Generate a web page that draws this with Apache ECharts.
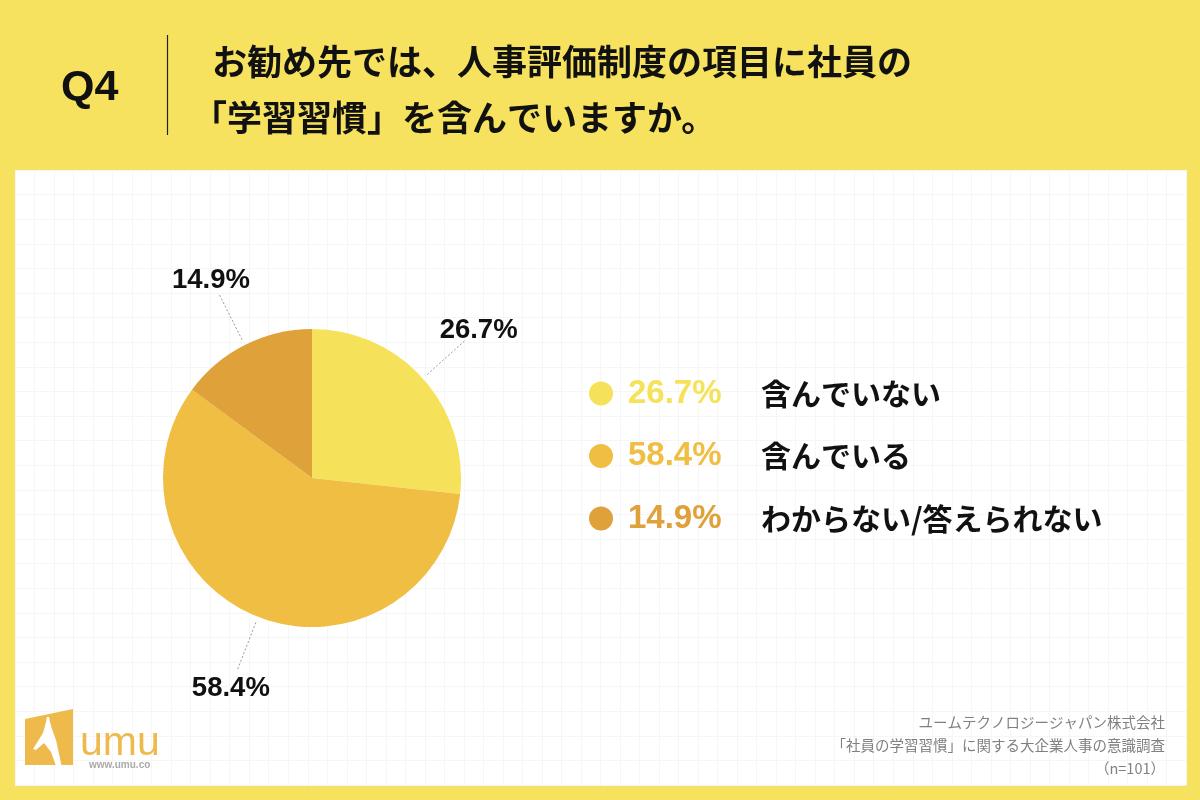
<!DOCTYPE html>
<html><head><meta charset="utf-8">
<script src="https://cdn.jsdelivr.net/npm/echarts@6/dist/echarts.min.js"></script>
<style>html,body{margin:0;padding:0;background:#F6E25E}#c{width:1200px;height:800px}</style>
</head><body><div id="c"></div>
<script>
const categories = ['含んでいない', '含んでいる', 'わからない/答えられない'];
const values = [26.7, 58.4, 14.9];
const sliceColors = ['#F6E25A', '#EFBE42', '#DFA13A'];
const titleLines = ['お勧め先では、人事評価制度の項目に社員の', '「学習習慣」を含んでいますか。'];
const questionNo = 'Q4';
const footLines = ['ユームテクノロジージャパン株式会社', '「社員の学習習慣」に関する大企業人事の意識調査', '（n=101）'];

const LAT = '"Liberation Sans", Arial, sans-serif';
const JP = '"Noto Sans CJK JP", sans-serif';

const rich = { n: { fontFamily: JP, fontWeight: 'bold', fontSize: 30, color: '#111', lineHeight: 36 } };
sliceColors.forEach((c, i) => {
  rich['p' + i] = { fontFamily: LAT, fontWeight: 'bold', fontSize: 33, color: c, width: 133, padding: [0, 0, 0, 10], lineHeight: 36 };
});

const chart = echarts.init(document.getElementById('c'), null, { renderer: 'canvas' });
chart.setOption({
  backgroundColor: '#F6E25E',
  animation: false,
  grid: { left: 15, top: 170, width: 1171, height: 615, show: true, backgroundColor: '#ffffff', borderWidth: 0 },
  xAxis: { type: 'value', min: 0, max: 60, interval: 1, axisLine: { show: false }, axisTick: { show: false }, axisLabel: { show: false },
    splitLine: { show: true, lineStyle: { color: '#f6f6f6', width: 1 } } },
  yAxis: { type: 'value', min: 0, max: 25, interval: 1, axisLine: { show: false }, axisTick: { show: false }, axisLabel: { show: false },
    splitLine: { show: true, lineStyle: { color: '#f6f6f6', width: 1 } } },
  legend: {
    orient: 'vertical', left: 584, top: 372, itemWidth: 24, itemHeight: 24, itemGap: 29.5, icon: 'circle',
    selectedMode: false,
    data: categories,
    formatter: function (name) {
      const i = categories.indexOf(name);
      return '{p' + i + '|' + values[i].toFixed(1) + '%}{n|' + name + '}';
    },
    textStyle: { rich: rich }
  },
  series: [{
    type: 'pie',
    center: [312, 478],
    radius: 149,
    startAngle: 90,
    clockwise: true,
    avoidLabelOverlap: false,
    silent: true,
    color: sliceColors,
    data: categories.map((c, i) => ({ name: c, value: values[i] })),
    label: {
      show: true, position: 'outside',
      formatter: p => p.value.toFixed(1) + '%',
      fontFamily: LAT, fontWeight: 'bold', fontSize: 27.5, color: '#111'
    },
    labelLine: { show: true, length: 56, length2: 0, smooth: false, lineStyle: { color: '#9a9a9a', width: 1, type: [2, 2] } },
    labelLayout: function (p) {
      const pts = p.labelLinePoints;
      if (!pts || pts.length < 2) return {};
      const a = pts[0], b = pts[1];
      const dx = b[0] - a[0], dy = b[1] - a[1];
      const len = Math.hypot(dx, dy) || 1;
      const ux = dx / len, uy = dy / len;
      const gap = 6, off = 19;
      return {
        x: b[0] + ux * off, y: b[1] + uy * off + 2, align: 'center', verticalAlign: 'middle',
        labelLinePoints: [[a[0] + ux * gap, a[1] + uy * gap], [b[0], b[1]]]
      };
    },
    emphasis: { disabled: true }
  }],
  graphic: [
    { type: 'text', z: 100, left: 61, top: 67, style: { text: questionNo, font: 'bold 43px ' + LAT, fill: '#111' } },
    { type: 'line', z: 100, shape: { x1: 167.5, y1: 35, x2: 167.5, y2: 135 }, style: { stroke: '#222', lineWidth: 1.2 } },
    { type: 'text', z: 100, x: 212, y: 62, style: { text: titleLines[0], font: 'bold 35px ' + JP, fill: '#111', textVerticalAlign: 'middle' } },
    { type: 'text', z: 100, x: 192, y: 118, style: { text: titleLines[1], font: 'bold 35px ' + JP, fill: '#111', textVerticalAlign: 'middle' } },
    { type: 'text', z: 100, x: 1165, y: 722, style: { text: footLines[0], font: '14.5px ' + JP, fill: '#808080', textAlign: 'right', textVerticalAlign: 'middle' } },
    { type: 'text', z: 100, x: 1165, y: 745, style: { text: footLines[1], font: '14.5px ' + JP, fill: '#808080', textAlign: 'right', textVerticalAlign: 'middle' } },
    { type: 'text', z: 100, x: 1165, y: 768, style: { text: footLines[2], font: '14.5px ' + JP, fill: '#808080', textAlign: 'right', textVerticalAlign: 'middle' } },
    { type: 'polygon', z: 100, shape: { points: [[25, 719], [73, 709], [73, 765], [25, 765]] }, style: { fill: '#EDBA4B' } },
    { type: 'polygon', z: 101, shape: { points: [[33, 749], [43, 733], [46, 722], [47, 717], [49, 717], [50, 722], [52, 729], [56, 740], [64, 777], [60, 777], [51, 752], [44, 743], [36, 750]] }, style: { fill: '#ffffff' } },
    { type: 'text', z: 100, x: 80, y: 744, style: { text: 'umu', font: '41px ' + LAT, fill: '#EDBA4B', textVerticalAlign: 'middle' } },
    { type: 'text', z: 100, x: 89, y: 765, style: { text: 'www.umu.co', font: 'bold 10px ' + LAT, fill: '#aaaaaa', textVerticalAlign: 'middle' } }
  ]
});
</script></body></html>
